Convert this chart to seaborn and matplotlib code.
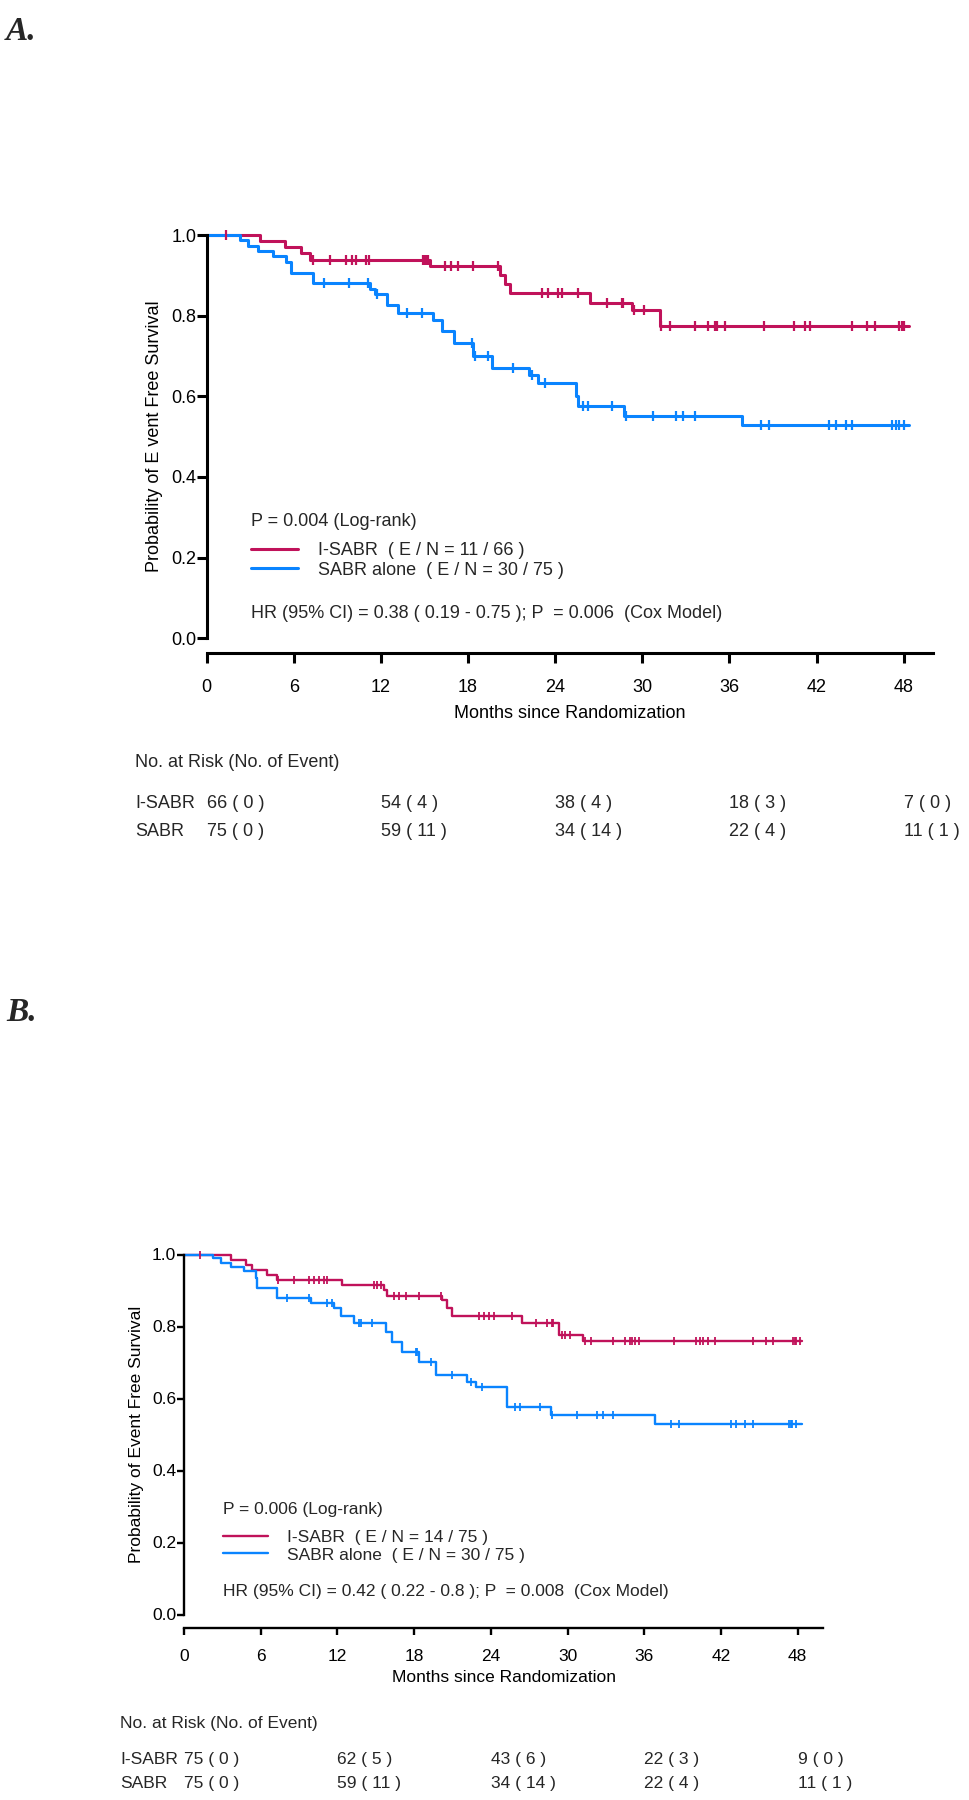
import numpy as np
import matplotlib
matplotlib.use("Agg")
import matplotlib.pyplot as plt
import seaborn as sns
from matplotlib.lines import Line2D
from matplotlib.transforms import blended_transform_factory

# ---------------- Panel A data ----------------
a_isabr_event_t = [3.65, 5.4, 6.5, 7.1, 15.4, 20.2, 20.55, 20.9, 26.4, 29.3, 31.2]
a_isabr_event_s = [0.985, 0.970, 0.955, 0.939, 0.922, 0.900, 0.878, 0.856, 0.831, 0.814, 0.775]
a_isabr_cens_t = [1.3, 7.3, 8.5, 9.6, 10.0, 10.3, 11.0, 11.15, 14.9, 15.0, 15.1, 15.25, 16.4, 16.8,
                  17.3, 18.35, 20.09, 23.1, 23.5, 24.2, 24.45, 25.6, 27.55, 28.6, 28.7, 29.4, 30.1,
                  31.3, 31.9, 33.65, 34.55, 35.0, 35.15, 35.7, 38.4, 40.45, 41.2, 41.55, 44.45,
                  45.5, 46.05, 47.7, 47.9, 48.05]
a_isabr_end = 48.37

a_sabr_event_t = [2.28, 2.85, 3.54, 4.57, 5.49, 5.84, 7.33, 11.24, 11.59, 12.39, 13.2, 15.6, 16.2,
                  17.0, 18.37, 19.63, 22.2, 22.8, 25.4, 25.6, 28.76, 36.87]
a_sabr_event_s = [0.987, 0.973, 0.960, 0.947, 0.933, 0.907, 0.880, 0.867, 0.853, 0.827, 0.806,
                  0.790, 0.761, 0.733, 0.700, 0.670, 0.652, 0.633, 0.600, 0.575, 0.552, 0.528]
a_sabr_cens_t = [8.07, 9.82, 11.1, 11.7, 13.77, 14.8, 18.25, 18.45, 19.4, 21.1, 22.39, 23.3,
                 25.95, 26.23, 27.91, 28.85, 30.74, 32.35, 32.8, 33.61, 38.18, 38.71, 42.85,
                 43.31, 44.0, 44.46, 47.22, 47.45, 47.68, 48.03]
a_sabr_end = 48.37

a_months = [0, 12, 24, 36, 48]
a_risk_isabr_n = [66, 54, 38, 18, 7]
a_risk_isabr_e = [0, 4, 4, 3, 0]
a_risk_sabr_n = [75, 59, 34, 22, 11]
a_risk_sabr_e = [0, 11, 14, 4, 1]
a_texts = {"p": "P = 0.004 (Log-rank)",
           "isabr": "I-SABR  ( E / N = 11 / 66 )",
           "sabr": "SABR alone  ( E / N = 30 / 75 )",
           "hr": "HR (95% CI) = 0.38 ( 0.19 - 0.75 ); P  = 0.006  (Cox Model)",
           "ylabel": "Probability of E vent Free Survival"}

# ---------------- Panel B data ----------------
b_isabr_event_t = [3.65, 4.82, 5.34, 6.52, 7.3, 12.38, 15.64, 15.9, 20.2, 20.59, 20.98, 26.4, 29.3, 31.17]
b_isabr_event_s = [0.986, 0.972, 0.958, 0.944, 0.930, 0.916, 0.902, 0.884, 0.874, 0.851, 0.828,
                   0.809, 0.777, 0.760]
b_isabr_cens_t = [1.25, 7.35, 8.6, 9.77, 10.16, 10.55, 10.95, 11.2, 14.86, 15.1, 15.4, 16.42, 16.8,
                  17.33, 18.37, 20.07, 23.06, 23.46, 23.85, 24.24, 25.65, 27.52, 28.36, 28.75, 28.88,
                  29.53, 29.8, 30.18, 31.35, 31.87, 33.57, 34.48, 34.87, 35.0, 35.26, 35.6, 38.31,
                  40.08, 40.34, 40.6, 40.99, 41.51, 44.51, 45.55, 46.08, 47.64, 47.77, 47.9, 48.16]
b_isabr_end = 48.3

b_sabr_event_t = [2.29, 2.87, 3.65, 4.69, 5.6, 5.73, 7.3, 9.9, 11.73, 12.25, 13.29, 15.77, 16.29,
                  17.07, 18.37, 19.68, 22.15, 22.8, 25.3, 28.67, 36.83]
b_sabr_event_s = [0.989, 0.977, 0.965, 0.953, 0.935, 0.907, 0.879, 0.865, 0.851, 0.828, 0.809,
                  0.786, 0.758, 0.730, 0.702, 0.665, 0.647, 0.633, 0.577, 0.553, 0.530]
b_sabr_cens_t = [8.08, 9.77, 11.2, 11.6, 13.68, 13.81, 14.73, 18.11, 18.24, 19.29, 20.98, 22.41,
                 23.33, 25.88, 26.27, 27.83, 28.75, 30.7, 32.27, 32.79, 33.57, 38.05, 38.73, 42.82,
                 43.21, 43.91, 44.51, 47.33, 47.44, 47.52, 47.9]
b_sabr_end = 48.3

b_months = [0, 12, 24, 36, 48]
b_risk_isabr_n = [75, 62, 43, 22, 9]
b_risk_isabr_e = [0, 5, 6, 3, 0]
b_risk_sabr_n = [75, 59, 34, 22, 11]
b_risk_sabr_e = [0, 11, 14, 4, 1]
b_texts = {"p": "P = 0.006 (Log-rank)",
           "isabr": "I-SABR  ( E / N = 14 / 75 )",
           "sabr": "SABR alone  ( E / N = 30 / 75 )",
           "hr": "HR (95% CI) = 0.42 ( 0.22 - 0.8 ); P  = 0.008  (Cox Model)",
           "ylabel": "Probability of Event Free Survival"}

x_ticks = [0, 6, 12, 18, 24, 30, 36, 42, 48]
y_ticks = [0.0, 0.2, 0.4, 0.6, 0.8, 1.0]
xlabel = "Months since Randomization"
risk_title = "No. at Risk (No. of Event)"

RED = "#C0125A"
BLUE = "#0A84FF"

sns.set_theme(style="ticks")
plt.rcParams["font.family"] = ["Liberation Sans", "DejaVu Sans"]

W, H = 969, 1800
fig = plt.figure(figsize=(W / 100, H / 100), dpi=100)


def steps(ev_t, ev_s, end):
    x = np.concatenate([[0.0], ev_t, [end]])
    y = np.concatenate([[1.0], ev_s, [ev_s[-1]]])
    return x, y


def surv_at(t, ev_t, ev_s):
    idx = np.searchsorted(np.asarray(ev_t), np.asarray(t), side="right")
    s = np.concatenate([[1.0], ev_s])
    return s[idx]


def draw_panel(rect, series, texts, months, risk, cfg):
    ax = fig.add_axes(rect)
    fs = cfg["fs"]
    for ev_t, ev_s, cens, end, col in series:
        x, y = steps(ev_t, ev_s, end)
        sns.lineplot(x=x, y=y, drawstyle="steps-post", estimator=None, sort=False,
                     color=col, lw=cfg["lw"], ax=ax, clip_on=False)
        cy = surv_at(cens, ev_t, ev_s)
        sns.scatterplot(x=cens, y=cy, marker="|", s=cfg["ms"], linewidth=cfg["mew"],
                        color=col, edgecolor=col, ax=ax, clip_on=False, zorder=3)
    ax.set_xlim(0, 50)
    ax.set_ylim(0, 1)
    sns.despine(ax=ax)
    for sp in ("left", "bottom"):
        ax.spines[sp].set_linewidth(cfg["spw"])
        ax.spines[sp].set_color("black")
    ax.spines["left"].set_bounds(0, 1)
    ax.spines["bottom"].set_bounds(0, 50)
    ax.spines["bottom"].set_position(("outward", cfg["xoff"]))
    ax.set_xticks(x_ticks)
    ax.set_xticklabels([str(v) for v in x_ticks])
    ax.set_yticks(y_ticks)
    ax.set_yticklabels([f"{v:.1f}" for v in y_ticks])
    ax.tick_params(axis="x", length=cfg["xtl"], width=cfg["spw"], pad=cfg["xpad"],
                   labelsize=fs, colors="black")
    ax.tick_params(axis="y", length=cfg["ytl"], width=cfg["spw"], pad=0.5,
                   labelsize=fs, colors="black")
    ax.set_ylabel(texts["ylabel"], fontsize=fs, labelpad=cfg["ylpad"], color="black")
    ax.set_xlabel(xlabel, fontsize=fs, color="black")
    ax.xaxis.set_label_coords(0.5, cfg["xl_y"])
    ax.set_facecolor("white")

    ax.text(cfg["tx"], cfg["p_y"], texts["p"], fontsize=fs, va="center", ha="left")
    ax.text(cfg["tx"], cfg["hr_y"], texts["hr"], fontsize=fs, va="center", ha="left")
    handles = [Line2D([], [], color=RED, lw=cfg["lw"]), Line2D([], [], color=BLUE, lw=cfg["lw"])]
    ax.legend(handles, [texts["isabr"], texts["sabr"]], loc="center left",
              bbox_to_anchor=(cfg["tx"], cfg["leg_y"]), bbox_transform=ax.transData,
              frameon=False, fontsize=fs, handlelength=cfg["hl"], handletextpad=cfg["htp"],
              labelspacing=cfg["lsp"], borderpad=0, borderaxespad=0)

    # risk table
    tr = blended_transform_factory(ax.transData, fig.transFigure)
    fig.text(cfg["rl_x"] / W, 1 - cfg["rt_y"] / H, risk_title, fontsize=fs, va="center", ha="left")
    rows = [("I-SABR", risk[0], risk[1], cfg["r1_y"]), ("SABR", risk[2], risk[3], cfg["r2_y"])]
    for name, ns, es, ypx in rows:
        fig.text(cfg["rl_x"] / W, 1 - ypx / H, name, fontsize=fs, va="center", ha="left")
        for m, n, e in zip(months, ns, es):
            ax.text(m, 1 - ypx / H, f"{n} ( {e} )", transform=tr, fontsize=fs,
                    va="center", ha="left")
    return ax


cfg_a = dict(fs=13, lw=2.2, ms=55, mew=1.6, spw=2.2, xoff=10.8, xtl=7.5, ytl=7.0, xpad=11,
             ylpad=6, xl_y=-0.165, tx=3.08, p_y=0.289, hr_y=0.062, leg_y=0.193, hl=2.6,
             htp=1.1, lsp=0.15, rl_x=135, rt_y=762.7, r1_y=803.3, r2_y=831.7)
cfg_b = dict(fs=12.5, lw=1.7, ms=36, mew=1.3, spw=1.7, xoff=10.0, xtl=5.0, ytl=5.0, xpad=10,
             ylpad=6, xl_y=-0.155, tx=3.03, p_y=0.292, hr_y=0.065, leg_y=0.19, hl=2.6,
             htp=1.1, lsp=0.15, rl_x=120, rt_y=1723.3, r1_y=1759.3, r2_y=1783.3)

rect_a = [206.7 / W, 1 - 638.3 / H, (932.7 - 206.7) / W, (638.3 - 235.0) / H]
rect_b = [184.0 / W, 1 - 1614.5 / H, (823.3 - 184.0) / W, (1614.5 - 1254.5) / H]

draw_panel(rect_a,
           [(a_isabr_event_t, a_isabr_event_s, a_isabr_cens_t, a_isabr_end, RED),
            (a_sabr_event_t, a_sabr_event_s, a_sabr_cens_t, a_sabr_end, BLUE)],
           a_texts, a_months,
           (a_risk_isabr_n, a_risk_isabr_e, a_risk_sabr_n, a_risk_sabr_e), cfg_a)
draw_panel(rect_b,
           [(b_isabr_event_t, b_isabr_event_s, b_isabr_cens_t, b_isabr_end, RED),
            (b_sabr_event_t, b_sabr_event_s, b_sabr_cens_t, b_sabr_end, BLUE)],
           b_texts, b_months,
           (b_risk_isabr_n, b_risk_isabr_e, b_risk_sabr_n, b_risk_sabr_e), cfg_b)

panel_font = dict(fontsize=24, fontweight="bold", fontstyle="italic",
                  family=["Liberation Serif", "DejaVu Serif"])
fig.text(6 / W, 1 - 40 / H, "A.", va="baseline", ha="left", **panel_font)
fig.text(6 / W, 1 - 1021 / H, "B.", va="baseline", ha="left", **panel_font)

fig.savefig("out.png", dpi=100, facecolor="white")
